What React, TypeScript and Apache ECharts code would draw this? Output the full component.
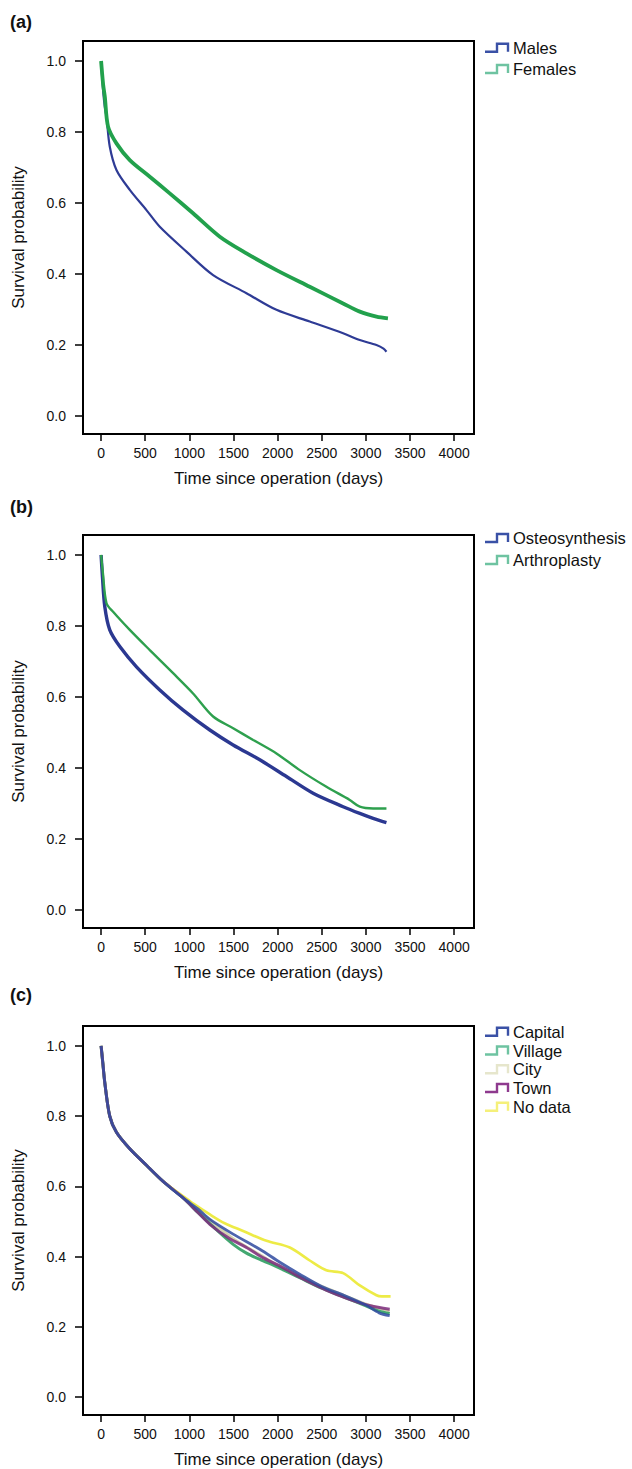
import React, { useEffect, useRef } from "react";
import * as echarts from "echarts";

const FONT = "'Liberation Sans', Arial, Helvetica, sans-serif";

const xTicks = [0, 500, 1000, 1500, 2000, 2500, 3000, 3500, 4000];
const yTicks = [0, 0.2, 0.4, 0.6, 0.8, 1.0];
const xTitle = "Time since operation (days)";
const yTitle = "Survival probability";
const panelLabels = ["(a)", "(b)", "(c)"];

// Panel (a)
const males = [
  [0, 1.0], [10, 0.96], [25, 0.91], [42, 0.871], [61, 0.843], [98, 0.759], [174, 0.693], [325, 0.637],
  [514, 0.58], [665, 0.533], [967, 0.463], [1269, 0.397], [1647, 0.346], [1987, 0.299],
  [2364, 0.266], [2742, 0.233], [2931, 0.214], [3120, 0.2], [3200, 0.19], [3233, 0.181],
];
const females = [
  [0, 1.0], [10, 0.97], [25, 0.93], [42, 0.9], [79, 0.815], [174, 0.768], [325, 0.721], [552, 0.674],
  [778, 0.627], [1042, 0.571], [1345, 0.505], [1647, 0.458], [1987, 0.411], [2364, 0.364],
  [2742, 0.317], [2931, 0.294], [3120, 0.28], [3250, 0.275],
];

// Panel (b)
const osteosynthesis = [
  [0, 1.0], [15, 0.94], [42, 0.854], [98, 0.789], [212, 0.742], [401, 0.685], [665, 0.62],
  [930, 0.563], [1232, 0.507], [1496, 0.465], [1798, 0.423], [2100, 0.376], [2402, 0.329],
  [2742, 0.291], [2931, 0.272], [3082, 0.258], [3233, 0.246],
];
const arthroplasty = [
  [0, 1.0], [20, 0.95], [61, 0.864], [136, 0.84], [325, 0.789], [552, 0.732], [816, 0.667],
  [1042, 0.61], [1269, 0.545], [1496, 0.512], [1723, 0.479], [1987, 0.441], [2251, 0.394],
  [2553, 0.347], [2817, 0.31], [2931, 0.291], [3082, 0.286], [3233, 0.286],
];

// Panel (c)
const capital = [
  [0, 1.0], [20, 0.95], [42, 0.895], [98, 0.8], [174, 0.754], [325, 0.707], [514, 0.66],
  [703, 0.614], [930, 0.567], [1100, 0.535], [1232, 0.506], [1496, 0.464], [1798, 0.421],
  [2025, 0.384], [2250, 0.35], [2500, 0.315], [2750, 0.29], [3000, 0.262], [3150, 0.24], [3270, 0.232],
];
const village = [
  [0, 1.0], [20, 0.95], [42, 0.895], [98, 0.8], [174, 0.754], [325, 0.707], [514, 0.66],
  [703, 0.614], [930, 0.567], [1100, 0.525], [1300, 0.478], [1496, 0.435], [1647, 0.41],
  [1800, 0.392], [2000, 0.37], [2250, 0.34], [2500, 0.31], [2750, 0.285], [3000, 0.26], [3150, 0.245], [3270, 0.238],
];
const city = [
  [0, 1.0], [20, 0.95], [42, 0.895], [98, 0.8], [174, 0.754], [325, 0.707], [514, 0.66],
  [703, 0.614], [930, 0.567], [1100, 0.53], [1300, 0.49], [1500, 0.45], [1800, 0.405],
  [2000, 0.375], [2250, 0.345], [2500, 0.315], [2750, 0.29], [3000, 0.265], [3270, 0.245],
];
const town = [
  [0, 1.0], [20, 0.95], [42, 0.895], [98, 0.8], [174, 0.754], [325, 0.707], [514, 0.66],
  [703, 0.614], [930, 0.567], [1100, 0.525], [1232, 0.492], [1450, 0.452], [1647, 0.426],
  [1850, 0.395], [2050, 0.37], [2300, 0.335], [2550, 0.305], [2800, 0.28], [3050, 0.26], [3270, 0.25],
];
const noData = [
  [0, 1.0], [20, 0.95], [42, 0.895], [98, 0.8], [174, 0.754], [325, 0.707], [514, 0.66],
  [703, 0.614], [930, 0.572], [1050, 0.55], [1232, 0.52], [1400, 0.495], [1609, 0.473],
  [1874, 0.445], [2138, 0.426], [2364, 0.389], [2553, 0.361], [2742, 0.353], [2931, 0.318],
  [3120, 0.29], [3180, 0.287], [3280, 0.287],
];

const legendA = ["Males", "Females"];
const legendB = ["Osteosynthesis", "Arthroplasty"];
const legendC = ["Capital", "Village", "City", "Town", "No data"];

const GRID_TOPS = [41, 535, 1026];
const GRID_H = 393;
const GRID_LEFT = 83;
const GRID_W = 391;

export default function App() {
  const ref = useRef<HTMLDivElement>(null);

  useEffect(() => {
    if (!ref.current) return;
    const chart = echarts.init(ref.current, null, { renderer: "svg" });

    const grids = GRID_TOPS.map((top) => ({
      left: GRID_LEFT,
      top,
      width: GRID_W,
      height: GRID_H,
      show: true,
      borderColor: "#000",
      borderWidth: 2,
      backgroundColor: "transparent",
      containLabel: false,
    }));

    const xAxes = GRID_TOPS.map((_, i) => ({
      type: "value",
      gridIndex: i,
      min: -205,
      max: 4225,
      axisLine: { show: true, onZero: false, lineStyle: { color: "#000", width: 2 } },
      splitLine: { show: false },
      axisTick: { show: true, length: 7, lineStyle: { color: "#000", width: 1.5 }, customValues: xTicks },
      axisLabel: {
        customValues: xTicks,
        color: "#111",
        fontSize: 14,
        fontFamily: FONT,
        margin: 12,
        formatter: (v: number) => String(Math.round(v)),
      },
      name: xTitle,
      nameLocation: "middle",
      nameGap: 36,
      nameTextStyle: { fontSize: 17, color: "#111", fontFamily: FONT },
    }));

    const yAxes = GRID_TOPS.map((_, i) => ({
      type: "value",
      gridIndex: i,
      min: -0.0507,
      max: 1.0563,
      axisLine: { show: true, onZero: false, lineStyle: { color: "#000", width: 2 } },
      splitLine: { show: false },
      axisTick: { show: true, length: 8, lineStyle: { color: "#000", width: 1.5 }, customValues: yTicks },
      axisLabel: {
        customValues: yTicks,
        color: "#111",
        fontSize: 14,
        fontFamily: FONT,
        margin: 17,
        formatter: (v: number) => v.toFixed(1),
      },
      name: yTitle,
      nameLocation: "middle",
      nameGap: 56,
      nameTextStyle: { fontSize: 17, color: "#111", fontFamily: FONT },
    }));

    const mk = (name: string, data: number[][], idx: number, color: string, width: number, opacity = 1, z = 2) => ({
      type: "line",
      name,
      xAxisIndex: idx,
      yAxisIndex: idx,
      data,
      symbol: "none",
      showSymbol: false,
      smooth: 0.3,
      z,
      lineStyle: { color, width, opacity },
      itemStyle: { color },
    });

    const series = [
      mk("Males", males, 0, "#2e3b95", 2.2),
      mk("Females", females, 0, "#22a14c", 3.8),
      mk("Osteosynthesis", osteosynthesis, 1, "#2b3891", 3.4),
      mk("Arthroplasty", arthroplasty, 1, "#2ea04e", 2.4, 1, 3),
      mk("City", city, 2, "#cfcfa6", 3, 0.9, 2),
      mk("Village", village, 2, "#2f9e62", 3, 0.9, 3),
      mk("No data", noData, 2, "#ecea3c", 2.6, 0.95, 4),
      mk("Town", town, 2, "#7c2c7e", 3, 0.85, 5),
      mk("Capital", capital, 2, "#2f4aa0", 2.8, 0.85, 6),
    ];

    const labelYs = [21.7, 507, 995];
    const graphic: any[] = [];
    panelLabels.forEach((t, i) => {
      graphic.push({
        type: "text",
        x: 10,
        y: labelYs[i],
        style: { text: t, font: `bold 18px ${FONT}`, fill: "#111", verticalAlign: "middle", align: "left" },
      });
    });

    const addLegend = (names: string[], colors: string[], ys: number[]) => {
      names.forEach((n, i) => {
        const y = ys[i];
        graphic.push({
          type: "polyline",
          shape: { points: [[485, y + 4], [497, y + 4], [497, y - 4], [508, y - 4], [508, y + 4]] },
          style: { stroke: colors[i], lineWidth: 2.4, fill: null },
        });
        graphic.push({
          type: "text",
          x: 513,
          y,
          style: { text: n, font: `16.5px ${FONT}`, fill: "#111", verticalAlign: "middle", align: "left" },
        });
      });
    };
    addLegend(legendA, ["#3a51a6", "#6ec3a1"], [47.7, 69]);
    addLegend(legendB, ["#3a51a6", "#6ec3a1"], [538, 560]);
    addLegend(legendC, ["#3a51a6", "#6ec3a1", "#e6e6cc", "#8e3a8e", "#f5f07a"], [1031.7, 1050.5, 1069.3, 1088, 1106.7]);

    chart.setOption({
      animation: false,
      backgroundColor: "#fff",
      grid: grids,
      xAxis: xAxes,
      yAxis: yAxes,
      series,
      graphic,
    });

    return () => chart.dispose();
  }, []);

  return (
    <div
      ref={ref}
      style={{ position: "absolute", left: 0, top: 0, width: 632, height: 1469 }}
    />
  );
}
